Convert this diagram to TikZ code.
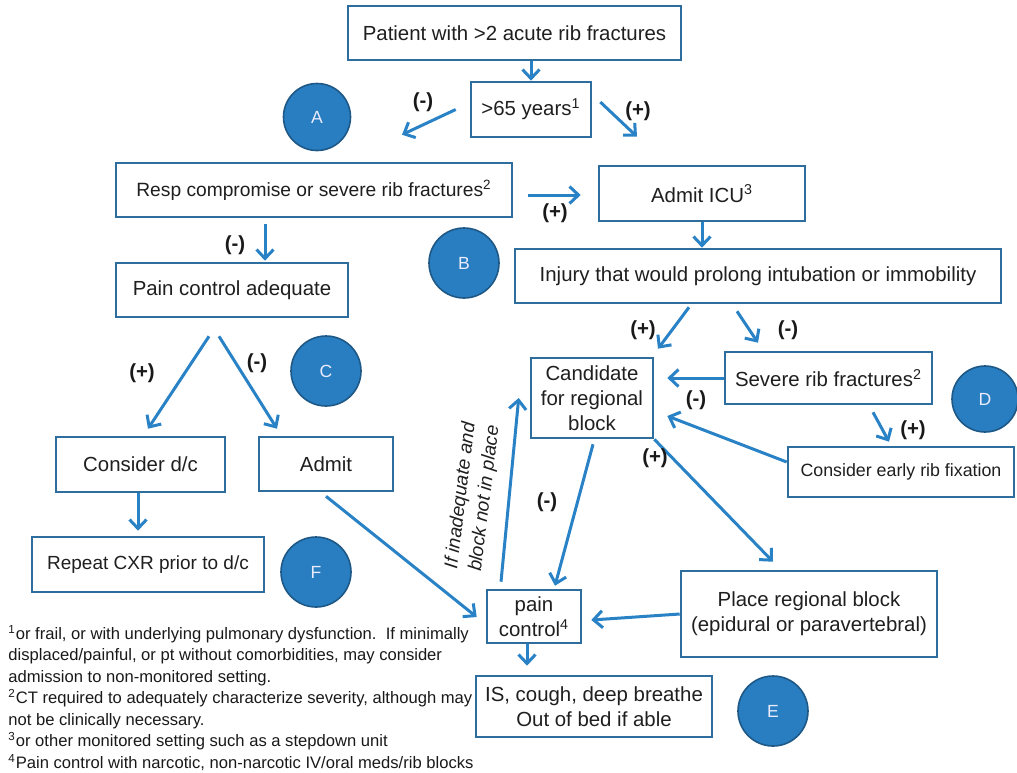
\documentclass[tikz,border=0pt]{standalone}
\usepackage{fontspec}
\setmainfont{Liberation Sans}
\usetikzlibrary{arrows.meta,calc}

\definecolor{boxblue}{RGB}{46,110,158}
\definecolor{arrowblue}{RGB}{41,130,198}
\definecolor{dotblue}{RGB}{40,126,192}
\definecolor{dotedge}{RGB}{30,88,135}

\begin{document}
\begin{tikzpicture}[x=0.5pt, y=-0.5pt,
  stepbox/.style={draw=boxblue, line width=1.3pt, fill=white, align=center, inner sep=0pt, text=black!88},
  arr/.style={arrowblue, line width=1.5pt, -{Straight Barb[length=4.5pt,width=8.5pt]}},
  sign/.style={font=\fontsize{10.2}{12}\selectfont\bfseries, text=black!90},
  dot/.style={circle, draw=dotedge, line width=0.8pt, fill=dotblue, text=white!92!blue, font=\fontsize{8.8}{10}\selectfont, inner sep=0pt, minimum size=35pt}]
\def\boxfont{\fontsize{10.2}{12.5}\selectfont}
\def\notefont{\fontsize{8.3}{10.75}\selectfont}

\useasboundingbox (0,0) rectangle (1017,772);

% boxes
\node[stepbox, font=\boxfont, minimum width=166.5pt, minimum height=27pt] (patient) at (514.5,33) {Patient with >2 acute rib fractures};
\node[stepbox, font=\boxfont, minimum width=60pt, minimum height=27.5pt] (age) at (531,109.5) {>65 years\textsuperscript{1}};
\node[stepbox, font=\fontsize{9.6}{12}\selectfont, minimum width=198pt, minimum height=27pt] (resp) at (314,190) {Resp compromise or severe rib fractures\textsuperscript{2}};
\node[stepbox, font=\boxfont, minimum width=103pt, minimum height=27.5pt] (icu) at (702,193.5) {Admit ICU\textsuperscript{3}};
\node[stepbox, font=\boxfont, minimum width=243pt, minimum height=27pt] (injury) at (758,276) {Injury that would prolong intubation or immobility};
\node[stepbox, font=\boxfont, minimum width=116pt, minimum height=27pt] (painadq) at (232,290) {Pain control adequate};
\node[stepbox, font=\boxfont, minimum width=61pt, minimum height=40pt] (cand) at (592,398) {Candidate\\for regional\\block};
\node[stepbox, font=\boxfont, minimum width=103.5pt, minimum height=26pt] (severe) at (828.5,378) {Severe rib fractures\textsuperscript{2}};
\node[stepbox, font=\fontsize{8.9}{11}\selectfont, minimum width=113pt, minimum height=25pt] (fixation) at (901,472) {Consider early rib fixation};
\node[stepbox, font=\boxfont, minimum width=84.5pt, minimum height=27.5pt] (dc) at (140.5,464.5) {Consider d/c};
\node[stepbox, font=\boxfont, minimum width=67pt, minimum height=27pt] (admit) at (326,464) {Admit};
\node[stepbox, font=\fontsize{9.5}{12}\selectfont, minimum width=116pt, minimum height=27.5pt] (repeat) at (148,564.5) {Repeat CXR prior to d/c};
\node[stepbox, font=\boxfont, minimum width=128pt, minimum height=43pt] (place) at (809,614) {Place regional block\\(epidural or paravertebral)};
\node[stepbox, font=\boxfont, minimum width=47pt, minimum height=26.5pt] (pain) at (534,616.5) {pain\\control\textsuperscript{4}};
\node[stepbox, font=\boxfont, minimum width=118pt, minimum height=30.5pt] (is) at (594,706.5) {IS, cough, deep breathe\\Out of bed if able};

% letters
\node[dot, minimum size=33.5pt] (dotA) at (317,117) {A};
\node[dot] (dotB) at (464,263) {B};
\node[dot] (dotC) at (326,371) {C};
\node[dot, minimum size=33pt] (dotD) at (985,399) {D};
\node[dot] (dotE) at (773,711) {E};
\node[dot] (dotF) at (316,572) {F};

% arrows
\draw[arr] (patient.south -| age.north) -- (age.north);
\draw[arr] ($(age.west)+(-14,0)$) -- ($(resp.north)+(88,-27)$);
\draw[arr] ($(age.east)+(8,-7.5)$) -- ($(icu.north)+(-65,-28)$);
\draw[arr] ($(resp.east)+(15,5)$) -- ($(icu.west)+(-17,1.5)$);
\draw[arr] ($(resp.south)+(-49,6)$) -- ($(painadq.north)+(33,-1)$);
\draw[arr] (icu.south) -- (icu.south |- injury.north);
\draw[arr] ($(injury.south)+(-69,3)$) -- ($(cand.north)+(66,-8)$);
\draw[arr] ($(injury.south)+(-21,7)$) -- ($(severe.north)+(-70.5,-8)$);
\draw[arr] (severe.west) -- ($(cand.east)+(13,-20)$);
\draw[arr] ($(fixation.west)+(0,-10)$) -- ($(cand.east)+(13,18)$);
\draw[arr] ($(severe.south)+(44.5,7)$) -- ($(fixation.north)+(-12,-4)$);
\draw[arr] (cand.south east) -- ($(place.north)+(-36,-8)$);
\draw[arr] ($(cand.south)+(1,5)$) -- ($(pain.north)+(21,-3)$);
\draw[arr] ($(pain.north)+(-33,-7)$) -- ($(cand.west)+(-11,0)$);
\draw[arr] ($(painadq.south)+(-23,18)$) -- ($(dc.north)+(7.5,-7)$);
\draw[arr] ($(painadq.south)+(-13,18)$) -- ($(admit.north)+(-49,-7)$);
\draw[arr] ($(dc.south)+(-2.5,0)$) -- ($(repeat.north)+(-10,-5)$);
\draw[arr] ($(admit.south)+(0,4)$) -- ($(pain.west)+(-9,0.5)$);
\draw[arr] (place.west) -- ($(pain.east)+(9,3.5)$);
\draw[arr] ($(pain.south)+(-7,0)$) -- ($(is.north)+(-67,-9)$);

% signs
\node[sign] (s1) at (423,102) {(-)};
\node[sign] (s2) at (638,111) {(+)};
\node[sign] (s3) at (555,213) {(+)};
\node[sign] (s4) at (235,245) {(-)};
\node[sign] (s5) at (643,330) {(+)};
\node[sign] (s6) at (788,330) {(-)};
\node[sign] (s7) at (696,400) {(-)};
\node[sign] (s8) at (655,458) {(+)};
\node[sign] (s9) at (547,502) {(-)};
\node[sign] (s10) at (142,373) {(+)};
\node[sign] (s11) at (257,363) {(-)};
\node[sign] (s12) at (913,430) {(+)};

\node[rotate=83, align=center, font=\fontsize{9.5}{12}\selectfont\itshape, text=black!88] (ifnote) at (473,497) {If inadequate and\\block not in place};

% footnotes
\node[anchor=north west, inner sep=0pt, align=left, font=\notefont, text=black!90] (notes) at (8,625) {%
\textsuperscript{1}or frail, or with underlying pulmonary dysfunction.\ \ If minimally\\
displaced/painful, or pt without comorbidities, may consider\\
admission to non-monitored setting.\\
\textsuperscript{2}CT required to adequately characterize severity, although may\\
not be clinically necessary.\\
\textsuperscript{3}or other monitored setting such as a stepdown unit\\
\textsuperscript{4}Pain control with narcotic, non-narcotic IV/oral meds/rib blocks};

\end{tikzpicture}
\end{document}
